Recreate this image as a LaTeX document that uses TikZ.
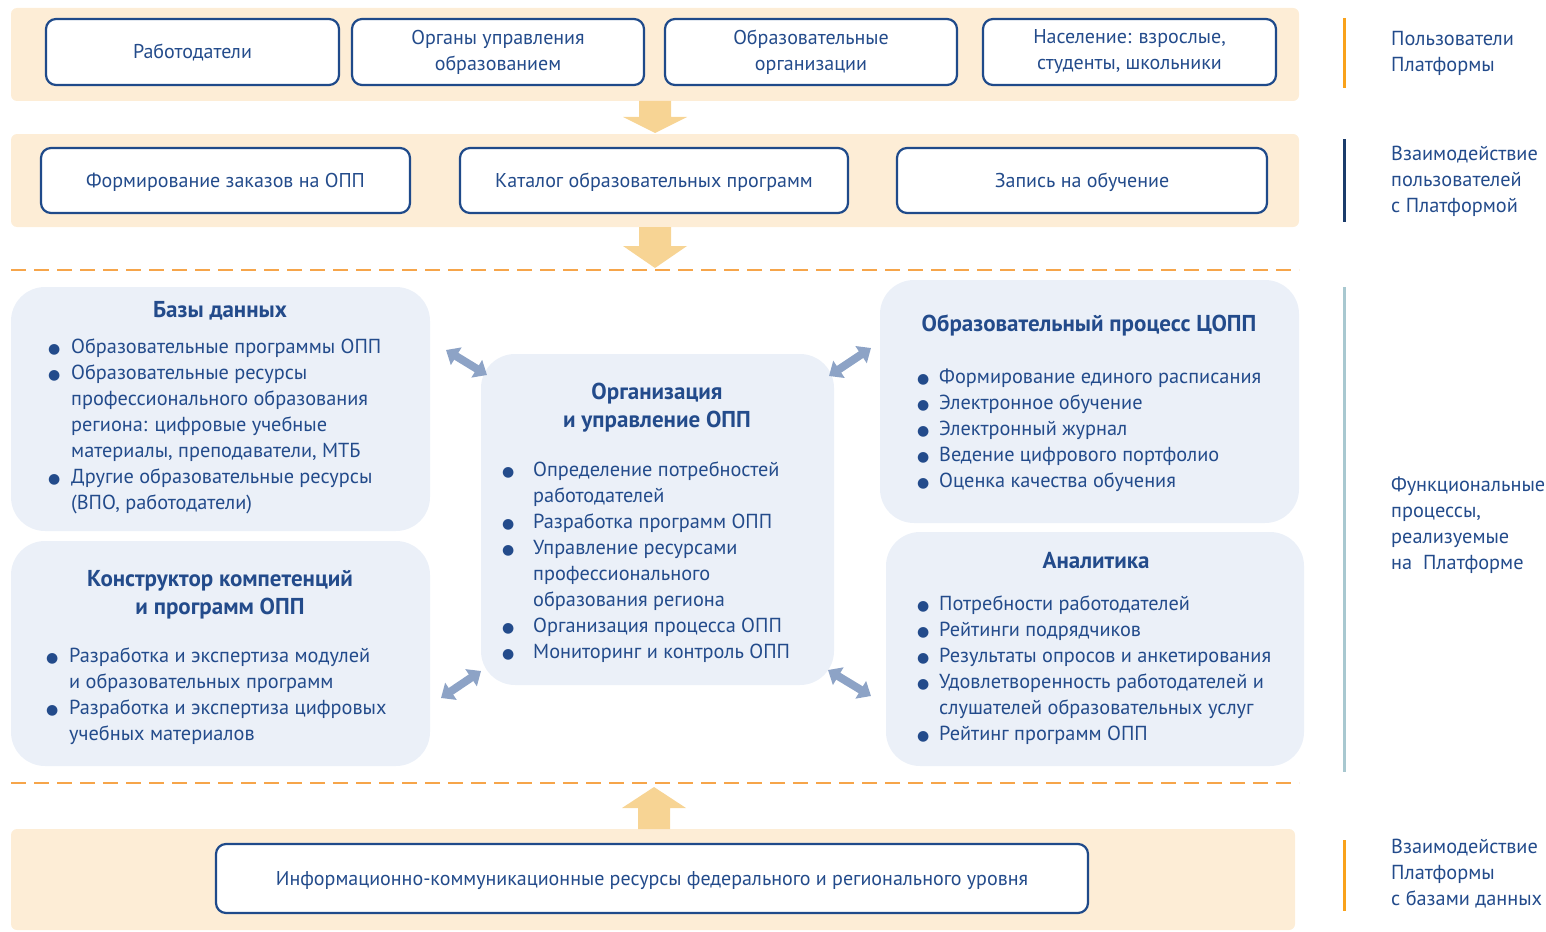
\documentclass[tikz,border=0pt]{standalone}
\usepackage{fontspec}
\setmainfont{PT Sans}
\newfontfamily\dejavu{DejaVu Sans}
\usetikzlibrary{arrows.meta}
\definecolor{band}{HTML}{FDEDD6}
\definecolor{navy}{HTML}{1F4A8A}
\definecolor{tc}{HTML}{234B8B}
\definecolor{panelc}{HTML}{EBF0F8}
\definecolor{arrc}{HTML}{8DA3C6}
\definecolor{oarr}{HTML}{F7D494}
\definecolor{dash}{HTML}{F6A54A}
\definecolor{barO}{HTML}{F9A21B}
\definecolor{barN}{HTML}{1B3C6B}
\definecolor{barT}{HTML}{A8C8D0}
\newcommand\txtf{\fontsize{20.3}{26}\selectfont}
\newcommand\boxf{\fontsize{20}{26}\selectfont}
\newcommand\hdf{\fontsize{23}{28}\selectfont\bfseries}
\newcommand\bu{{\dejavu\fontsize{14}{14}\selectfont ●}}
\begin{document}
\begin{tikzpicture}[x=1pt,y=-1pt,
  bandbox/.style={fill=band, draw=none, rounded corners=6pt},
  ubox/.style={draw=navy, line width=2.2pt, rounded corners=10pt, fill=white, text=tc, align=center, font=\boxf, inner sep=0pt},
  sbox/.style={ubox, text height=15pt, text depth=2pt},
  panel/.style={fill=panelc, draw=none, rounded corners=34pt, inner sep=0pt},
  txt/.style={text=tc, font=\txtf, inner sep=0pt, anchor=north west},
  hd/.style={text=tc, font=\hdf, inner sep=0pt, anchor=north},
  oarrow/.style={fill=oarr, draw=none},
  dashline/.style={draw=dash, line width=2pt, dash pattern=on 15pt off 8pt},
  dbl/.style={draw=arrc, line width=8pt, {Triangle[width=20pt,length=12pt]}-{Triangle[width=20pt,length=12pt]}},
  sidebar/.style={line width=3pt},
  side/.style={text=tc, font=\txtf, inner sep=0pt, anchor=north west}]
\useasboundingbox (0,0) rectangle (1546,931);

% bands
\fill[bandbox] (11,8) rectangle (1299,101);
\fill[bandbox] (11,134) rectangle (1299,227);
\fill[bandbox] (11,829) rectangle (1295,930);

% top boxes
\node[sbox, minimum width=293pt, minimum height=66pt] (rab) at (192.5,52) {Работодатели};
\node[ubox, minimum width=292pt, minimum height=66pt] (org) at (498,52) {Органы управления\\образованием};
\node[ubox, minimum width=292pt, minimum height=66pt] (obr) at (811,52) {Образовательные\\организации};
\node[ubox, minimum width=293pt, minimum height=66pt] (nas) at (1129.5,52) {Население: взрослые,\\студенты, школьники};

% second row
\node[sbox, minimum width=369pt, minimum height=65pt] (form) at (225.5,180.5) {Формирование заказов на ОПП};
\node[sbox, minimum width=388pt, minimum height=65pt] (kat) at (654,180.5) {Каталог образовательных программ};
\node[sbox, minimum width=370pt, minimum height=65pt] (zap) at (1082,180.5) {Запись на обучение};

% orange arrows
\fill[oarrow] (639,101) -- (671,101) -- (671,117) -- (687,117) -- (655,133) -- (623,117) -- (639,117) -- cycle;
\fill[oarrow] (639,227) -- (671,227) -- (671,246) -- (687,246) -- (655,268) -- (623,246) -- (639,246) -- cycle;
\fill[oarrow] (638,829) -- (670,829) -- (670,808) -- (686,808) -- (654,787) -- (622,808) -- (638,808) -- cycle;

% dashed lines
\draw[dashline] (11,270) -- (1299,270);
\draw[dashline] (11,783) -- (1299,783);

% panels
\node[panel, minimum width=419pt, minimum height=244pt] (bd) at (220.5,409) {};
\node[panel, minimum width=419pt, minimum height=225pt] (kon) at (220.5,653.5) {};
\node[panel, minimum width=353pt, minimum height=331pt] (cen) at (657.5,519.5) {};
\node[panel, minimum width=419pt, minimum height=243pt] (op) at (1089.5,401.5) {};
\node[panel, minimum width=418pt, minimum height=234pt] (an) at (1095,649) {};

% Базы данных
\node[hd] (bdh) at (220,301.5) {Базы данных};
\node[txt] (bdl) at (48,335) {\begin{tabular}[t]{@{}p{23pt}@{}l@{}}
\bu & Образовательные программы ОПП\\
\bu & Образовательные ресурсы\\
 & профессионального образования\\
 & региона: цифровые учебные\\
 & материалы, преподаватели, МТБ\\
\bu & Другие образовательные ресурсы\\
 & (ВПО, работодатели)
\end{tabular}};

% Конструктор
\node[hd] (konh) at (220,566.5) {\begin{tabular}[t]{@{}c@{}}Конструктор компетенций\\и программ ОПП\end{tabular}};
\node[txt] (konl) at (46,644) {\begin{tabular}[t]{@{}p{23pt}@{}l@{}}
\bu & Разработка и экспертиза модулей\\
 & и образовательных программ\\
\bu & Разработка и экспертиза цифровых\\
 & учебных материалов
\end{tabular}};

% Центр
\node[hd] (cenh) at (657,379.5) {\begin{tabular}[t]{@{}c@{}}Организация\\и управление ОПП\end{tabular}};
\node[txt] (cenl) at (502,458) {\begin{tabular}[t]{@{}p{31pt}@{}l@{}}
\bu & Определение потребностей\\
 & работодателей\\
\bu & Разработка программ ОПП\\
\bu & Управление ресурсами\\
 & профессионального\\
 & образования региона\\
\bu & Организация процесса ОПП\\
\bu & Мониторинг и контроль ОПП
\end{tabular}};

% Образовательный процесс
\node[hd] (oph) at (1089,314.5) {Образовательный процесс ЦОПП};
\node[txt] (opl) at (917,365) {\begin{tabular}[t]{@{}p{22pt}@{}l@{}}
\bu & Формирование единого расписания\\
\bu & Электронное обучение\\
\bu & Электронный журнал\\
\bu & Ведение цифрового портфолио\\
\bu & Оценка качества обучения
\end{tabular}};

% Аналитика
\node[hd] (anh) at (1096,552.5) {Аналитика};
\node[txt] (anl) at (917,592) {\begin{tabular}[t]{@{}p{22pt}@{}l@{}}
\bu & Потребности работодателей\\
\bu & Рейтинги подрядчиков\\
\bu & Результаты опросов и анкетирования\\
\bu & Удовлетворенность работодателей и\\
 & слушателей образовательных услуг\\
\bu & Рейтинг программ ОПП
\end{tabular}};

% double arrows
\coordinate (a1s) at (446,350);
\coordinate (a1e) at (487,375);
\coordinate (a2s) at (829,376);
\coordinate (a2e) at (871,348);
\coordinate (a3s) at (441,698);
\coordinate (a3e) at (481,671);
\coordinate (a4s) at (828,670);
\coordinate (a4e) at (871,696);
\draw[dbl] (a1s) -- (a1e);
\draw[dbl] (a2s) -- (a2e);
\draw[dbl] (a3s) -- (a3e);
\draw[dbl] (a4s) -- (a4e);

% bottom box
\node[sbox, minimum width=872pt, minimum height=69pt] (icr) at (652,878.5) {Информационно-коммуникационные ресурсы федерального и регионального уровня};

% side bars and labels
\draw[sidebar, barO] (1344,18) -- (1344,88);
\draw[sidebar, barN] (1344,139) -- (1344,222);
\draw[sidebar, barT] (1344,287) -- (1344,772);
\draw[sidebar, barO] (1344,840) -- (1344,911);

\node[side] (s1) at (1391,27) {\begin{tabular}[t]{@{}l@{}}Пользователи\\Платформы\end{tabular}};
\node[side] (s2) at (1391,142) {\begin{tabular}[t]{@{}l@{}}Взаимодействие\\пользователей\\с Платформой\end{tabular}};
\node[side] (s3) at (1391,473) {\begin{tabular}[t]{@{}l@{}}Функциональные\\процессы,\\реализуемые\\на\ \ Платформе\end{tabular}};
\node[side] (s4) at (1391,835) {\begin{tabular}[t]{@{}l@{}}Взаимодействие\\Платформы\\с базами данных\end{tabular}};
\end{tikzpicture}
\end{document}
